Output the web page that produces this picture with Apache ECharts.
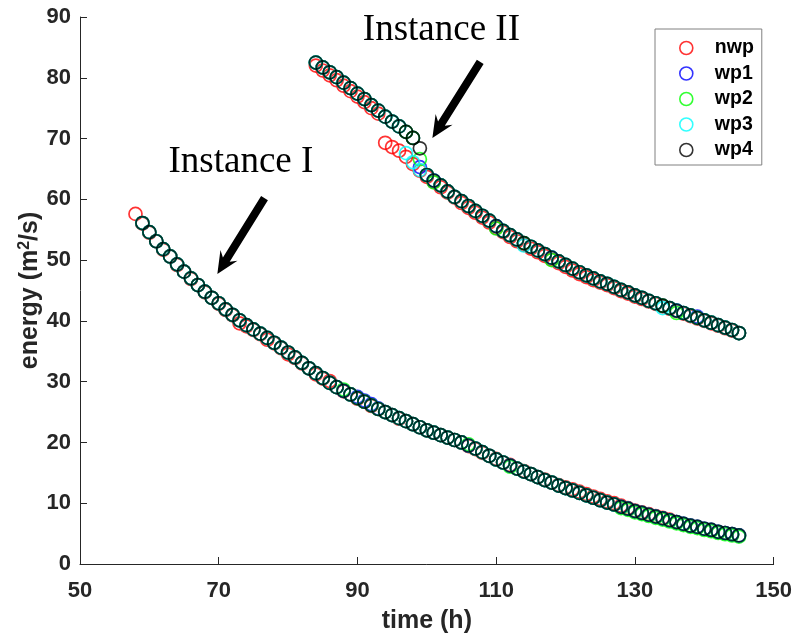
<!DOCTYPE html>
<html><head><meta charset="utf-8">
<script src="https://cdn.jsdelivr.net/npm/echarts@6/dist/echarts.min.js"></script>
<style>html,body{margin:0;padding:0;background:#fff}#c{width:795px;height:640px}</style>
</head><body><div id="c"></div>
<script>
// ---- data ----
const seriesNames = ['nwp', 'wp1', 'wp2', 'wp3', 'wp4'];
const xTicks = [50, 70, 90, 110, 130, 150];
const yTicks = [0, 10, 20, 30, 40, 50, 60, 70, 80, 90];

const timeLower = [58,59,60,61,62,63,64,65,66,67,68,69,70,71,72,73,74,75,76,77,78,79,80,81,82,83,84,85,86,87,88,89,90,91,92,93,94,95,96,97,98,99,100,101,102,103,104,105,106,107,108,109,110,111,112,113,114,115,116,117,118,119,120,121,122,123,124,125,126,127,128,129,130,131,132,133,134,135,136,137,138,139,140,141,142,143,144,145];
const timeUpper = [84,85,86,87,88,89,90,91,92,93,94,95,96,97,98,99,100,101,102,103,104,105,106,107,108,109,110,111,112,113,114,115,116,117,118,119,120,121,122,123,124,125,126,127,128,129,130,131,132,133,134,135,136,137,138,139,140,141,142,143,144,145];

const nwpLower = [57.6,56.0,54.5,53.1,51.7,50.6,49.2,48.1,46.9,45.9,44.7,43.8,42.8,41.8,40.9,39.6,39.1,38.5,37.8,36.9,36.3,35.5,34.5,33.9,33.0,32.2,31.2,30.5,30.1,29.1,28.4,27.9,27.2,26.7,26.0,25.5,25.0,24.5,23.9,23.5,23.0,22.5,22.0,21.6,21.2,20.8,20.4,20.0,19.4,18.9,18.3,17.8,17.3,16.7,16.3,15.7,15.3,14.8,14.3,13.9,13.4,13.0,12.6,12.3,11.9,11.5,11.1,10.7,10.3,10.0,9.6,9.2,8.8,8.5,8.2,7.9,7.6,7.3,6.9,6.6,6.3,6.1,5.8,5.6,5.3,5.1,4.9,4.7];
const wp1Lower = [null,56.1,54.6,53.1,51.8,50.6,49.3,48.1,47.0,45.9,44.8,43.8,42.9,41.9,41.0,40.1,39.3,38.6,37.9,37.2,36.4,35.6,34.8,34.0,33.1,32.2,31.4,30.6,29.8,29.1,28.5,27.9,27.5,26.9,26.3,25.6,25.0,24.5,24.0,23.5,23.0,22.5,22.0,21.6,21.2,20.8,20.4,20.0,19.5,19.0,18.4,17.8,17.2,16.7,16.2,15.7,15.2,14.8,14.3,13.8,13.4,12.9,12.5,12.1,11.7,11.3,10.9,10.5,10.1,9.8,9.4,9.1,8.7,8.4,8.1,7.8,7.5,7.2,6.9,6.6,6.3,6.1,5.8,5.6,5.3,5.1,4.9,4.7];
const wp2Lower = [null,56.1,54.6,53.1,51.8,50.6,49.3,48.1,47.0,45.9,44.8,43.8,42.9,41.9,41.0,40.1,39.3,38.6,37.9,37.2,36.4,35.6,34.8,34.0,33.1,32.2,31.4,30.6,29.8,29.1,28.7,27.9,27.3,26.7,26.1,25.5,25.0,24.5,24.0,23.5,23.0,22.5,22.0,21.6,21.2,20.8,20.4,20.0,19.7,19.0,18.4,17.8,17.2,16.7,16.0,15.7,15.2,14.8,14.3,13.8,13.4,12.9,12.5,12.1,11.7,11.3,10.9,10.5,10.1,9.8,9.2,8.9,8.5,8.2,7.9,7.6,7.3,7.0,6.7,6.4,6.1,5.9,5.6,5.4,5.1,4.9,4.7,4.5];
const wp3Lower = [null,56.1,54.6,53.1,51.8,50.6,49.3,48.1,47.0,45.9,44.8,43.8,42.9,41.9,41.0,40.1,39.3,38.6,37.9,37.2,36.4,35.6,34.8,34.0,33.1,32.2,31.4,30.6,29.8,29.1,28.5,27.9,27.3,26.7,26.1,25.5,25.0,24.5,24.0,23.5,23.0,22.5,22.0,21.6,21.2,20.8,20.4,20.0,19.5,19.0,18.4,17.8,17.2,16.7,16.2,15.7,15.2,14.8,14.3,13.8,13.4,12.9,12.5,12.1,11.7,11.3,10.9,10.5,10.1,9.8,9.4,9.1,8.7,8.4,8.1,7.8,7.5,7.2,6.9,6.6,6.3,6.1,5.8,5.6,5.3,5.1,4.9,4.7];
const wp4Lower = [null,56.1,54.6,53.1,51.8,50.6,49.3,48.1,47.0,45.9,44.8,43.8,42.9,41.9,41.0,40.1,39.3,38.6,37.9,37.2,36.4,35.6,34.8,34.0,33.1,32.2,31.4,30.6,29.8,29.1,28.5,27.9,27.3,26.7,26.1,25.5,25.0,24.5,24.0,23.5,23.0,22.5,22.0,21.6,21.2,20.8,20.4,20.0,19.5,19.0,18.4,17.8,17.2,16.7,16.2,15.7,15.2,14.8,14.3,13.8,13.4,12.9,12.5,12.1,11.7,11.3,10.9,10.5,10.1,9.8,9.4,9.1,8.7,8.4,8.1,7.8,7.5,7.2,6.9,6.6,6.3,6.1,5.8,5.6,5.3,5.1,4.9,4.7];

const nwpUpper = [82.0,81.2,80.4,79.6,78.7,77.8,76.9,76.0,75.0,74.1,69.3,68.6,68.0,67.0,65.8,64.7,63.7,62.9,62.0,61.1,60.3,59.4,58.6,57.8,57.0,56.2,55.3,54.6,53.8,53.1,52.5,51.9,51.3,50.7,50.1,49.5,48.9,48.3,47.7,47.2,46.7,46.3,45.9,45.4,44.9,44.5,44.0,43.6,43.2,42.8,42.4,42.0,41.6,41.2,40.8,40.4,40.0,39.6,39.2,38.8,38.4,38.0];
const wp1Upper = [82.5,81.7,80.9,80.1,79.2,78.3,77.4,76.5,75.5,74.6,73.6,72.8,72.0,71.1,70.1,65.3,64.0,63.1,62.3,61.3,60.4,59.7,58.9,58.1,57.3,56.5,55.6,54.8,54.1,53.4,52.8,52.2,51.6,51.0,50.4,49.8,49.2,48.6,48.0,47.5,47.0,46.5,46.1,45.6,45.1,44.7,44.2,43.8,43.3,42.9,42.5,42.1,41.7,41.3,40.9,40.7,40.1,39.7,39.3,38.9,38.5,38.0];
const wp2Upper = [82.5,81.7,80.9,80.1,79.2,78.3,77.4,76.5,75.5,74.6,73.6,72.8,72.0,71.1,70.1,66.6,64.0,62.8,62.3,61.3,60.4,59.7,58.9,58.1,57.3,56.5,55.2,54.8,54.1,53.4,52.8,52.2,51.6,51.0,50.0,49.8,49.2,48.6,48.0,47.5,47.0,46.5,46.1,45.6,45.1,44.7,44.2,43.8,43.3,42.9,42.5,42.1,41.3,41.3,40.9,40.5,40.1,39.7,39.3,38.9,38.5,38.0];
const wp3Upper = [82.5,81.7,80.9,80.1,79.2,78.3,77.4,76.5,75.5,74.6,73.6,72.8,72.0,67.6,66.1,64.8,64.0,63.1,62.3,61.3,60.4,59.7,58.9,58.1,57.3,56.5,55.6,54.8,54.1,53.4,52.4,52.2,51.6,51.0,50.4,49.8,49.2,48.6,48.0,47.5,47.0,46.5,46.1,45.6,45.1,44.7,44.2,43.8,43.3,42.9,42.1,42.1,41.7,41.3,40.9,40.5,40.1,39.7,39.3,38.9,38.5,38.0];
const wp4Upper = [82.5,81.7,80.9,80.1,79.2,78.3,77.4,76.5,75.5,74.6,73.6,72.8,72.0,71.1,70.1,68.4,64.0,63.1,62.3,61.3,60.4,59.7,58.9,58.1,57.3,56.5,55.6,54.8,54.1,53.4,52.8,52.2,51.6,51.0,50.4,49.8,49.2,48.6,48.0,47.5,47.0,46.5,46.1,45.6,45.1,44.7,44.2,43.8,43.3,42.9,42.5,42.1,41.7,41.3,40.9,40.5,40.1,39.7,39.3,38.9,38.5,38.0];

// annotations (data coordinates)
const annoTexts = [
  { text: 'Instance I', at: [73.2, 66.1] },
  { text: 'Instance II', at: [102.1, 87.8] }
];
const annoArrows = [
  { from: [76.6, 60.2], to: [69.8, 47.7] },
  { from: [107.7, 82.6], to: [100.8, 70.1] }
];

// ---- styling ----
const colors = ['#ff0000', '#0000ff', '#00ff00', '#00ffff', '#000000'];
const lowerSets = [nwpLower, wp1Lower, wp2Lower, wp3Lower, wp4Lower];
const upperSets = [nwpUpper, wp1Upper, wp2Upper, wp3Upper, wp4Upper];
const axisCol = '#262626';
const sans = '"Liberation Sans", Arial, Helvetica, sans-serif';

function pairs(ts, vs) {
  const out = [];
  for (let i = 0; i < ts.length && i < vs.length; i++) if (vs[i] != null) out.push([ts[i], vs[i]]);
  return out;
}

const chart = echarts.init(document.getElementById('c'), null, { renderer: 'canvas' });
const option = {
  animation: false,
  backgroundColor: '#fff',
  grid: { left: 80, right: 20, top: 17, bottom: 76, containLabel: false },
  xAxis: {
    type: 'value', min: 50, max: 150, interval: 20,
    name: 'time (h)', nameLocation: 'middle', nameGap: 45,
    nameTextStyle: { fontFamily: sans, fontWeight: 'bold', fontSize: 25, color: axisCol },
    axisLine: { show: true, onZero: false, lineStyle: { color: axisCol, width: 1 } },
    axisTick: { show: true, inside: true, length: 7, lineStyle: { color: axisCol } },
    axisLabel: { margin: 16, fontFamily: sans, fontWeight: 'bold', fontSize: 22, color: axisCol,
      formatter: v => xTicks.includes(v) ? String(v) : '' },
    splitLine: { show: false }
  },
  yAxis: {
    type: 'value', min: 0, max: 90, interval: 10,
    name: '{a|energy (m}{s|2}{a|/s)}', nameLocation: 'middle', nameGap: 35, nameRotate: 90,
    nameMoveOverlap: false,
    nameTextStyle: {
      fontFamily: sans, fontWeight: 'bold', fontSize: 25, color: axisCol,
      rich: {
        a: { fontFamily: sans, fontWeight: 'bold', fontSize: 25, color: axisCol, lineHeight: 30 },
        s: { fontFamily: sans, fontWeight: 'bold', fontSize: 16, color: axisCol, lineHeight: 30, verticalAlign: 'top', padding: [2, 0, 0, 0] }
      }
    },
    axisLine: { show: true, lineStyle: { color: axisCol, width: 1 } },
    axisTick: { show: true, inside: true, length: 7, lineStyle: { color: axisCol } },
    axisLabel: { margin: 9, fontFamily: sans, fontWeight: 'bold', fontSize: 22, color: axisCol,
      formatter: v => yTicks.includes(v) ? String(v) : '' },
    splitLine: { show: false }
  },
  legend: {
    orient: 'vertical', left: 655, top: 29,
    padding: [9, 8, 5, 24],
    itemWidth: 47, itemHeight: 13, itemGap: 5.5,
    backgroundColor: '#fff', borderColor: '#808080', borderWidth: 1, borderRadius: 0,
    textStyle: { fontFamily: sans, fontWeight: 'bold', fontSize: 19.5, color: '#000' },
    data: seriesNames.map((n, i) => ({
      name: n, icon: 'circle',
      itemStyle: { color: 'transparent', borderColor: colors[i], borderWidth: 1.6 }
    }))
  },
  series: seriesNames.map((n, i) => ({
    name: n, type: 'scatter', symbol: 'circle', symbolSize: 13,
    itemStyle: { color: 'transparent', borderColor: colors[i], borderWidth: 1.7 },
    emphasis: { disabled: true },
    data: pairs(timeLower, lowerSets[i]).concat(pairs(timeUpper, upperSets[i])),
    z: 2 + i
  }))
};
chart.setOption(option);

function arrowPolygon(p0, p1, shaftW, headL, headW, notch) {
  const dx = p1[0] - p0[0], dy = p1[1] - p0[1];
  const L = Math.hypot(dx, dy);
  const ux = dx / L, uy = dy / L, nx = -uy, ny = ux;
  const bx = p1[0] - ux * headL, by = p1[1] - uy * headL;
  const sx = bx + ux * notch, sy = by + uy * notch;
  const hs = shaftW / 2, hh = headW / 2;
  return [
    [p0[0] + nx * hs, p0[1] + ny * hs],
    [sx + nx * hs, sy + ny * hs],
    [bx + nx * hh, by + ny * hh],
    [p1[0], p1[1]],
    [bx - nx * hh, by - ny * hh],
    [sx - nx * hs, sy - ny * hs],
    [p0[0] - nx * hs, p0[1] - ny * hs]
  ];
}

const toPx = p => chart.convertToPixel({ gridIndex: 0 }, p);
const graphics = [];
annoArrows.forEach(a => {
  graphics.push({
    type: 'polygon', silent: true, z: 50,
    shape: { points: arrowPolygon(toPx(a.from), toPx(a.to), 8, 22, 20, 5) },
    style: { fill: '#000' }
  });
});
annoTexts.forEach(t => {
  const p = toPx(t.at);
  graphics.push({
    type: 'text', silent: true, z: 50, x: p[0], y: p[1],
    style: { text: t.text, font: '37px "Liberation Serif", "Times New Roman", serif', fill: '#000',
      align: 'center', verticalAlign: 'middle', textAlign: 'center', textVerticalAlign: 'middle' }
  });
});
chart.setOption({ graphic: graphics });
</script>
</body></html>
